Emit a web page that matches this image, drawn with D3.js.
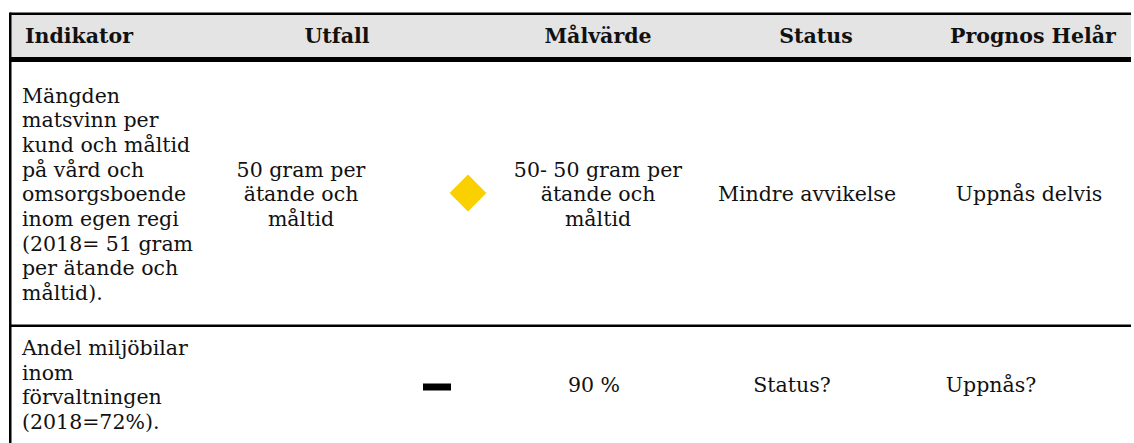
<!DOCTYPE html>
<html>
<head>
<meta charset="utf-8">
<script src="https://cdn.jsdelivr.net/npm/d3@7"></script>
<style>
  body { margin: 0; background: #fff; }
  svg text { font-family: "DejaVu Serif", Georgia, serif; fill: #111; }
</style>
</head>
<body>
<div class="chart"></div>
<script>
//Table content
const headers = ["Indikator", "Utfall", "", "Målvärde", "Status", "Prognos Helår"];
const indikator = [
  ["Mängden", "matsvinn per", "kund och måltid", "på vård och", "omsorgsboende",
   "inom egen regi", "(2018= 51 gram", "per ätande och", "måltid)."],
  ["Andel miljöbilar", "inom", "förvaltningen", "(2018=72%)."]
];
const utfall = [["50 gram per", "ätande och", "måltid"], []];
const symbols = ["diamond", "dash"];
const malvarde = [["50- 50 gram per", "ätande och", "måltid"], ["90 %"]];
const status = [["Mindre avvikelse"], ["Status?"]];
const prognos = [["Uppnås delvis"], ["Uppnås?"]];

//Layout
const W = 1134, H = 443;
const left = 10, right = 1131;
const headTop = 14, headBottom = 57;
const rowEdges = [62, 326, 443];
const lineH = 24.7;
const fontSize = 20.5;

const cols = ["ind", "utf", "sym", "mal", "sta", "pro"];
const headX = d3.scaleOrdinal().domain(cols).range([25, 337, 0, 598, 816, 1033]);
const rowX = [
  d3.scaleOrdinal().domain(cols).range([22, 301, 468, 598, 807, 1029]),
  d3.scaleOrdinal().domain(cols).range([22, 0, 437, 594, 792, 991])
];

const svg = d3.select('.chart')
  .append('svg')
  .attr('width', W)
  .attr('height', H);

//Header background
svg.append('rect')
  .attr('x', left).attr('y', headTop)
  .attr('width', right - left).attr('height', headBottom - headTop)
  .attr('fill', '#e4e4e4');

//Header text
svg.selectAll('text.head')
  .data(headers.map((h, i) => ({h, c: cols[i]})).filter(d => d.h))
  .enter()
  .append('text')
  .attr('class', 'head')
  .attr('x', d => headX(d.c))
  .attr('y', (headTop + headBottom) / 2)
  .attr('dy', '0.36em')
  .attr('text-anchor', d => d.c === 'ind' ? 'start' : 'middle')
  .attr('font-weight', 'bold')
  .attr('font-size', fontSize)
  .text(d => d.h);

//Body cells
const cells = [];
indikator.forEach((lines, r) => {
  [["ind", lines], ["utf", utfall[r]], ["mal", malvarde[r]],
   ["sta", status[r]], ["pro", prognos[r]]].forEach(([c, ls]) => {
    cells.push({r, c, lines: ls});
  });
});

cells.forEach(cell => {
  const mid = (rowEdges[cell.r] + rowEdges[cell.r + 1]) / 2;
  const n = cell.lines.length;
  // line index -> y, centred on the row middle
  const yLine = d3.scaleLinear()
    .domain([0, 1])
    .range([mid - (n - 1) * lineH / 2, mid - (n - 1) * lineH / 2 + lineH]);
  svg.append('g')
    .selectAll('text')
    .data(cell.lines)
    .enter()
    .append('text')
    .attr('x', rowX[cell.r](cell.c))
    .attr('y', (d, i) => yLine(i))
    .attr('dy', '0.36em')
    .attr('text-anchor', cell.c === 'ind' ? 'start' : 'middle')
    .attr('font-size', fontSize)
    .text(d => d);
});

//Status symbols
symbols.forEach((s, r) => {
  const mid = (rowEdges[r] + rowEdges[r + 1]) / 2;
  const x = rowX[r]('sym');
  if (s === 'diamond') {
    svg.append('path')
      .attr('d', d3.symbol(d3.symbolSquare, 26 * 26)())
      .attr('transform', `translate(${x},${mid - 1}) rotate(45)`)
      .attr('fill', '#fad000');
  } else {
    svg.append('rect')
      .attr('x', x - 14).attr('y', mid - 1)
      .attr('width', 28).attr('height', 7)
      .attr('fill', '#000');
  }
});

//Borders
svg.append('rect')
  .attr('x', left).attr('y', headTop - 1.5)
  .attr('width', right - left).attr('height', 2.5)
  .attr('fill', '#000');
svg.append('rect')
  .attr('x', left).attr('y', headBottom)
  .attr('width', right - left).attr('height', 5)
  .attr('fill', '#000');
svg.append('rect')
  .attr('x', left).attr('y', rowEdges[1] - 1.5)
  .attr('width', right - left).attr('height', 2.5)
  .attr('fill', '#000');
svg.append('rect')
  .attr('x', left - 1).attr('y', headTop - 1.5)
  .attr('width', 2.5).attr('height', H)
  .attr('fill', '#000');
</script>
</body>
</html>
